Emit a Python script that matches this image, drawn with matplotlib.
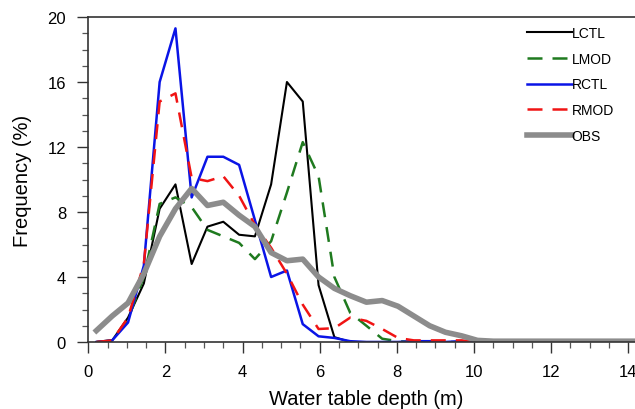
import matplotlib
matplotlib.use("Agg")
import matplotlib.pyplot as plt
from matplotlib.ticker import MultipleLocator

plt.rcParams['font.family'] = ['Liberation Sans', 'DejaVu Sans']

# bin centres (m)
depth = [0.21, 0.62, 1.03, 1.44, 1.85, 2.26, 2.68, 3.09, 3.50, 3.91, 4.32, 4.74,
         5.15, 5.56, 5.97, 6.38, 6.79, 7.21, 7.62, 8.03, 8.44, 8.85, 9.26, 9.68,
         10.09, 10.50, 10.91, 11.32, 11.74, 12.15, 12.56, 12.97, 13.38, 13.79, 14.20]

lctl = [0.0, 0.1, 1.5, 3.6, 8.2, 9.7, 4.8, 7.1, 7.4, 6.6, 6.5, 9.7,
        16.0, 14.8, 3.5, 0.3, 0.0, 0.0, 0.0, 0.0, 0.0, 0.0, 0.0, 0.0,
        0.0, 0.0, 0.0, 0.0, 0.0, 0.0, 0.0, 0.0, 0.0, 0.0, 0.0]
lmod = [0.0, 0.1, 1.4, 4.0, 8.5, 8.9, 8.3, 6.9, 6.5, 6.1, 5.1, 6.2,
        9.2, 12.3, 10.2, 4.0, 1.8, 1.0, 0.2, 0.05, 0.0, 0.0, 0.0, 0.0,
        0.0, 0.0, 0.0, 0.0, 0.0, 0.0, 0.0, 0.0, 0.0, 0.0, 0.0]
rctl = [0.0, 0.1, 1.2, 4.7, 16.0, 19.3, 8.9, 11.4, 11.4, 10.9, 7.5, 4.0,
        4.4, 1.1, 0.35, 0.25, 0.05, 0.0, 0.0, 0.0, 0.05, 0.05, 0.0, 0.05,
        0.0, 0.0, 0.0, 0.0, 0.0, 0.0, 0.0, 0.0, 0.0, 0.0, 0.0]
rmod = [0.0, 0.1, 1.5, 4.8, 14.8, 15.3, 10.1, 9.9, 10.2, 9.0, 7.2, 5.8,
        4.2, 2.3, 0.8, 0.85, 1.5, 1.3, 0.8, 0.25, 0.1, 0.1, 0.1, 0.1,
        0.0, 0.0, 0.0, 0.0, 0.0, 0.0, 0.0, 0.0, 0.0, 0.0, 0.0]
obs = [0.7, 1.6, 2.4, 4.2, 6.5, 8.2, 9.45, 8.4, 8.6, 7.8, 7.1, 5.5,
       5.0, 5.1, 4.0, 3.3, 2.85, 2.45, 2.55, 2.2, 1.6, 1.0, 0.6, 0.38,
       0.1, 0.05, 0.05, 0.05, 0.05, 0.05, 0.05, 0.05, 0.05, 0.05, 0.05]

fig = plt.figure(figsize=(6.35, 4.10), dpi=100)
ax = fig.add_axes([88.3 / 635, 1 - 343 / 410, (643.7 - 88.3) / 635, 325 / 410])

ax.plot(depth, lctl, color='black', lw=1.5, label='LCTL')
ax.plot(depth, lmod, color='#1f7a1f', lw=1.8, ls=(0, (6, 4)), label='LMOD')
ax.plot(depth, rctl, color='#0a14e6', lw=1.8, label='RCTL')
ax.plot(depth, rmod, color='#f01414', lw=1.8, ls=(0, (6, 4)), label='RMOD')
ax.plot(depth, obs, color='#8c8c8c', lw=4.0, label='OBS')

ax.set_xlim(0, 14.4)
ax.set_ylim(0, 20)
ax.xaxis.set_major_locator(MultipleLocator(2))
ax.xaxis.set_minor_locator(MultipleLocator(0.5))
ax.yaxis.set_major_locator(MultipleLocator(4))
ax.yaxis.set_minor_locator(MultipleLocator(1))
ax.tick_params(which='major', length=8, width=1.0, pad=8, labelsize=12, color='#333333')
ax.tick_params(which='minor', length=4, width=0.9, color='#555555')
ax.spines['right'].set_visible(False)
for s in ['left', 'bottom', 'top']:
    ax.spines[s].set_linewidth(1.2)
    ax.spines[s].set_color('#333333')

ax.set_xlabel('Water table depth (m)', fontsize=14.5, labelpad=7)
ax.set_ylabel('Frequency (%)', fontsize=14.5, labelpad=11)

leg = ax.legend(loc='upper left', bbox_to_anchor=(0.78, 0.99), frameon=False,
                fontsize=10, handlelength=3.2, handletextpad=0.0,
                labelspacing=0.85, borderaxespad=0)

fig.savefig('out.png', dpi=100)
